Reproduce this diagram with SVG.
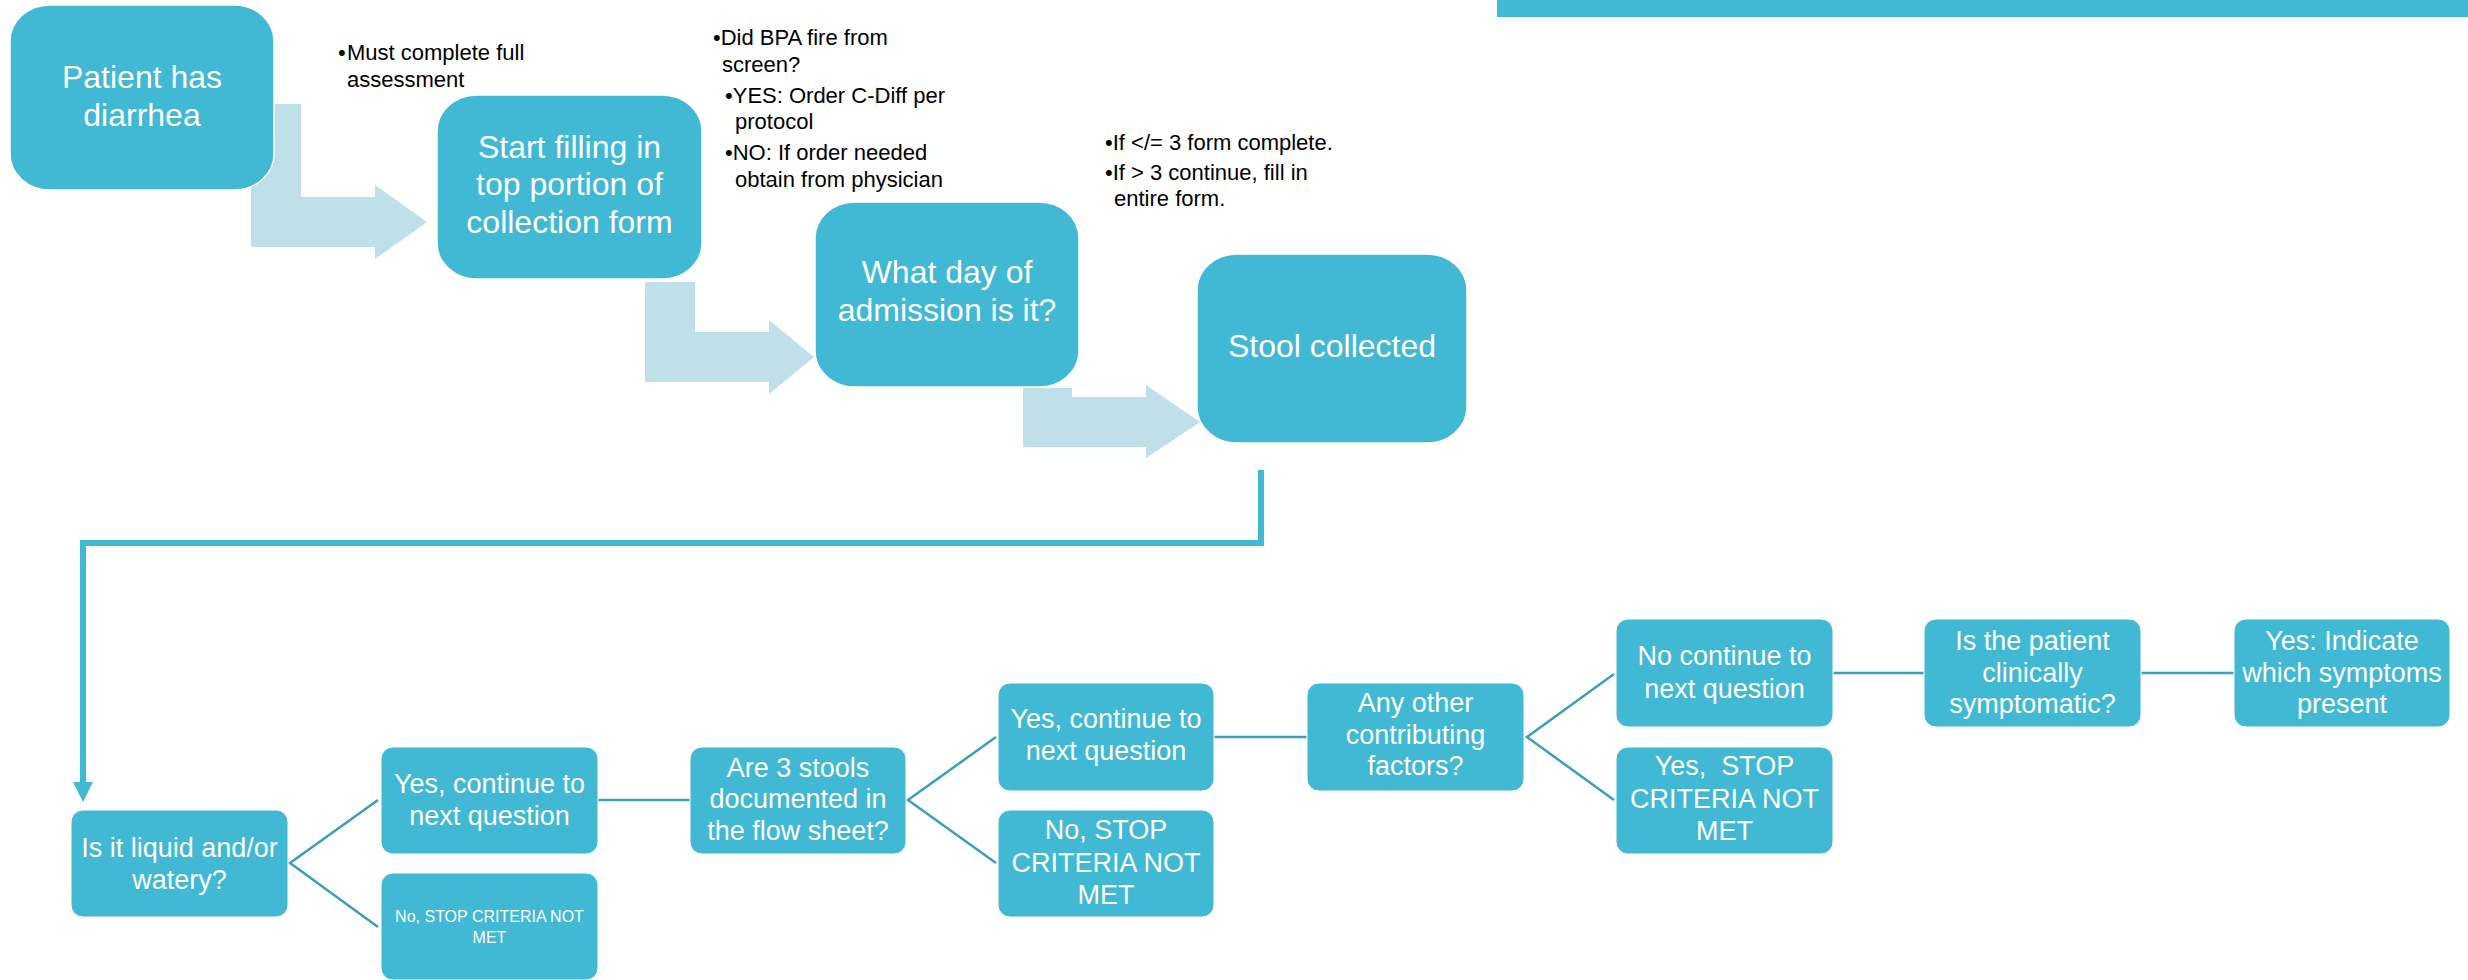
<svg xmlns="http://www.w3.org/2000/svg" width="2468" height="980" viewBox="0 0 2468 980">
<defs>
<style>
.big{fill:#41B8D4;stroke:#ffffff;stroke-width:1.5}
.sm{fill:#41B8D4;stroke:#ffffff;stroke-width:1}
.arr{fill:#BFE0E9}
.t32{font-family:"Liberation Sans",Arial,sans-serif;font-size:32px;fill:#ffffff;text-anchor:middle}
.t27{font-family:"Liberation Sans",Arial,sans-serif;font-size:27px;fill:#ffffff;text-anchor:middle}
.t16{font-family:"Liberation Sans",Arial,sans-serif;font-size:16px;fill:#ffffff;text-anchor:middle}
.note{font-family:"Liberation Sans",Arial,sans-serif;font-size:22px;fill:#000000}
.ln{stroke:#3A9FB8;stroke-width:2.5;fill:none}
.thick{stroke:#41B8D4;stroke-width:6;fill:none}
</style>
<marker id="ah" markerUnits="userSpaceOnUse" markerWidth="20" markerHeight="20" viewBox="0 0 18 18" refX="0" refY="9" orient="auto">
<path d="M0,0 L18,9 L0,18 z" fill="#41B8D4"/>
</marker>
</defs>
<rect x="1497" y="0" width="971" height="17" fill="#41B8D4"/>

<g id="flow-arrows">
<polygon class="arr" points="251,104 301,104 301,197 375,197 375,185 427,222 375,259 375,247 251,247"/>
<polygon class="arr" points="645,282 695,282 695,332 769,332 769,320 814,357 769,394 769,382 645,382"/>
<polygon class="arr" points="1023,388 1072,388 1072,397 1146,397 1146,385 1200,422 1146,458 1146,447 1023,447"/>
</g>

<g id="connectors">
<path class="thick" d="M1261,470 L1261,543 L83,543 L83,782" marker-end="url(#ah)"/>
<path class="ln" d="M378,800 L290,863 L378,927"/>
<path class="ln" d="M598,800 L690,800"/>
<path class="ln" d="M996,737 L908,800 L996,863"/>
<path class="ln" d="M1214,737 L1307,737"/>
<path class="ln" d="M1614,674 L1527,737 L1614,800"/>
<path class="ln" d="M1833,673 L1924,673"/>
<path class="ln" d="M2141,673 L2234,673"/>
</g>

<g id="box-a">
<rect class="big" x="10" y="5" width="264" height="185" rx="40" ry="36"/>
<text class="t32" x="142" y="88">Patient has</text>
<text class="t32" x="142" y="126">diarrhea</text>
</g>

<g id="note-1">
<text class="note" x="338" y="60">•</text>
<text class="note" x="347" y="60">Must complete full</text>
<text class="note" x="347" y="87">assessment</text>
</g>

<g id="box-b">
<rect class="big" x="437" y="95" width="265" height="184" rx="40" ry="36"/>
<text class="t32" x="569.5" y="158">Start filling in</text>
<text class="t32" x="569.5" y="195">top portion of</text>
<text class="t32" x="569.5" y="233">collection form</text>
</g>

<g id="note-2">
<text class="note" x="713" y="45">•Did BPA fire from</text>
<text class="note" x="722" y="72">screen?</text>
<text class="note" x="725" y="103">•YES: Order C-Diff per</text>
<text class="note" x="735" y="129">protocol</text>
<text class="note" x="725" y="160">•NO: If order needed</text>
<text class="note" x="735" y="187">obtain from physician</text>
</g>

<g id="box-c">
<rect class="big" x="815" y="202" width="264" height="185" rx="40" ry="36"/>
<text class="t32" x="947" y="283">What day of</text>
<text class="t32" x="947" y="321">admission is it?</text>
</g>

<g id="note-3">
<text class="note" x="1105" y="150">•If &lt;/= 3 form complete.</text>
<text class="note" x="1105" y="180">•If &gt; 3 continue, fill in</text>
<text class="note" x="1114" y="206">entire form.</text>
</g>

<g id="box-d">
<rect class="big" x="1197" y="254" width="270" height="189" rx="40" ry="36"/>
<text class="t32" x="1332" y="357">Stool collected</text>
</g>

<g id="box-e">
<rect class="sm" x="71" y="810" width="217" height="107" rx="12"/>
<text class="t27" x="179.5" y="857">Is it liquid and/or</text>
<text class="t27" x="179.5" y="889">watery?</text>
</g>

<g id="box-f">
<rect class="sm" x="381" y="747" width="217" height="107" rx="12"/>
<text class="t27" x="489.5" y="793">Yes, continue to</text>
<text class="t27" x="489.5" y="825">next question</text>
</g>

<g id="box-g">
<rect class="sm" x="381" y="873" width="217" height="107" rx="12"/>
<text class="t16" x="489.5" y="922">No, STOP CRITERIA NOT</text>
<text class="t16" x="489.5" y="943">MET</text>
</g>

<g id="box-h">
<rect class="sm" x="690" y="747" width="216" height="107" rx="12"/>
<text class="t27" x="798" y="777">Are 3 stools</text>
<text class="t27" x="798" y="808">documented in</text>
<text class="t27" x="798" y="840">the flow sheet?</text>
</g>

<g id="box-i">
<rect class="sm" x="998" y="683" width="216" height="108" rx="12"/>
<text class="t27" x="1106" y="728">Yes, continue to</text>
<text class="t27" x="1106" y="760">next question</text>
</g>

<g id="box-j">
<rect class="sm" x="998" y="810" width="216" height="107" rx="12"/>
<text class="t27" x="1106" y="839">No, STOP</text>
<text class="t27" x="1106" y="872">CRITERIA NOT</text>
<text class="t27" x="1106" y="904">MET</text>
</g>

<g id="box-k">
<rect class="sm" x="1307" y="683" width="217" height="108" rx="12"/>
<text class="t27" x="1415.5" y="712">Any other</text>
<text class="t27" x="1415.5" y="744">contributing</text>
<text class="t27" x="1415.5" y="775">factors?</text>
</g>

<g id="box-l">
<rect class="sm" x="1616" y="619" width="217" height="108" rx="12"/>
<text class="t27" x="1724.5" y="665">No continue to</text>
<text class="t27" x="1724.5" y="698">next question</text>
</g>

<g id="box-m">
<rect class="sm" x="1616" y="747" width="217" height="107" rx="12"/>
<text class="t27" x="1724.5" y="775">Yes,&#160; STOP</text>
<text class="t27" x="1724.5" y="808">CRITERIA NOT</text>
<text class="t27" x="1724.5" y="840">MET</text>
</g>

<g id="box-n">
<rect class="sm" x="1924" y="619" width="217" height="108" rx="12"/>
<text class="t27" x="2032.5" y="650">Is the patient</text>
<text class="t27" x="2032.5" y="682">clinically</text>
<text class="t27" x="2032.5" y="713">symptomatic?</text>
</g>

<g id="box-o">
<rect class="sm" x="2234" y="619" width="216" height="108" rx="12"/>
<text class="t27" x="2342" y="650">Yes: Indicate</text>
<text class="t27" x="2342" y="682">which symptoms</text>
<text class="t27" x="2342" y="713">present</text>
</g>
</svg>
